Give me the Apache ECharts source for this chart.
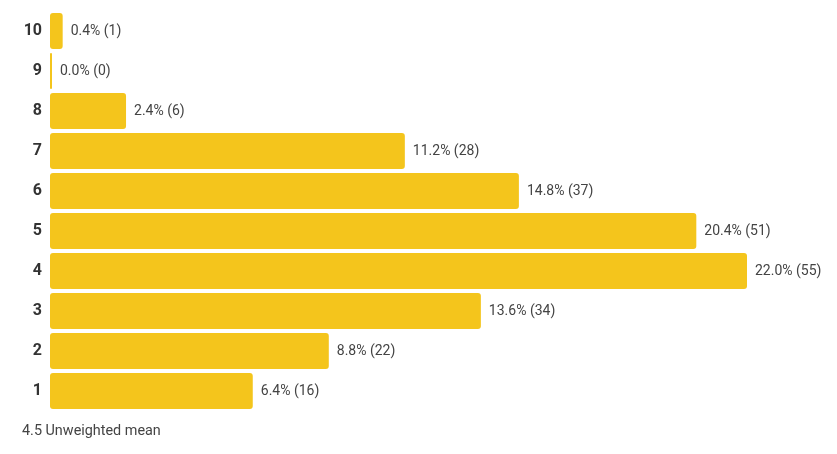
<!DOCTYPE html>
<html><head><meta charset="utf-8">
<script src="https://cdn.jsdelivr.net/npm/echarts@6/dist/echarts.min.js"></script>
<style>html,body{margin:0;padding:0;background:#fff;}#c{width:837px;height:454px;}</style>
</head><body><div id="c"></div>
<script>
var categories = ['1','2','3','4','5','6','7','8','9','10'];
var percents = [6.4, 8.8, 13.6, 22.0, 20.4, 14.8, 11.2, 2.4, 0.0, 0.4];
var counts = [16, 22, 34, 55, 51, 37, 28, 6, 0, 1];
var meanText = '4.5 Unweighted mean';

var chart = echarts.init(document.getElementById('c'));
chart.setOption({
  animation: false,
  grid: {left: 50, right: 90, top: 11, bottom: 43, containLabel: false},
  xAxis: {type: 'value', min: 0, max: 22, show: false},
  yAxis: {
    type: 'category', data: categories,
    axisLine: {show: false}, axisTick: {show: false},
    axisLabel: {margin: 8, fontFamily: 'Roboto', fontSize: 16, fontWeight: 'bold', color: '#333'}
  },
  graphic: [{type: 'text', left: 22, top: 424, style: {text: meanText, font: '14.4px Roboto', fill: '#444'}}],
  series: [{
    type: 'bar', barWidth: 36, barMinHeight: 2,
    data: percents.map(function (p, i) { return {value: p, count: counts[i]}; }),
    itemStyle: {color: '#F4C51C', borderRadius: 3},
    label: {
      show: true, position: 'right', distance: 8,
      fontFamily: 'Roboto', fontSize: 14, color: '#444',
      formatter: function (p) { return p.value.toFixed(1) + '% (' + p.data.count + ')'; }
    }
  }]
});
</script></body></html>
